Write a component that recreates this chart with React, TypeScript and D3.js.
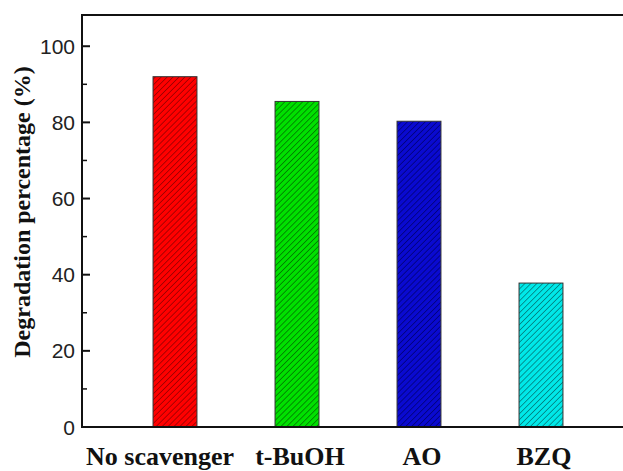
import React from 'react';
import * as d3 from 'd3';

const width = 623;
const height = 471;
const margin = { top: 15, right: -10, bottom: 44, left: 82 };

const categories = ['No scavenger', 't-BuOH', 'AO', 'BZQ'];
const values = [92.0, 85.5, 80.3, 37.8];
const fills = ['#ff0000', '#00e000', '#0a0ad0', '#00e8e8'];
const hatches = ['#8a0000', '#006a00', '#000070', '#007070'];
const majorTicks = [0, 20, 40, 60, 80, 100];
const minorTicks = [10, 30, 50, 70, 90];

export default function App() {
  const plotBottom = height - margin.bottom;
  const y = d3.scaleLinear().domain([0, 108.2]).range([plotBottom, margin.top]);
  const x = d3
    .scaleBand()
    .domain(categories)
    .range([114, 602])
    .paddingInner(0.64)
    .paddingOuter(0.32);

  return (
    <svg
      width={width}
      height={height}
      style={{ position: 'absolute', left: 0, top: 0, background: '#fff' }}
    >
      <defs>
        {categories.map((c, i) => (
          <pattern
            key={c}
            id={`hatch${i}`}
            patternUnits="userSpaceOnUse"
            width={4.2}
            height={4.2}
            patternTransform="rotate(45)"
          >
            <rect width={4.2} height={4.2} fill={fills[i]} />
            <line x1={0} y1={0} x2={0} y2={4.2} stroke={hatches[i]} strokeWidth={1.4} />
          </pattern>
        ))}
      </defs>

      {categories.map((c, i) => (
        <rect
          key={c}
          x={x(c)}
          y={y(values[i])}
          width={x.bandwidth()}
          height={plotBottom - y(values[i])}
          fill={`url(#hatch${i})`}
          stroke="#333"
          strokeWidth={1}
        />
      ))}

      {/* frame: left, top, bottom (right edge falls outside) */}
      <path
        d={`M${width + 2},${margin.top}H${margin.left}V${plotBottom}H${width + 2}`}
        fill="none"
        stroke="#111"
        strokeWidth={2}
      />

      {majorTicks.map((t) => (
        <g key={t}>
          <line x1={margin.left} x2={margin.left + 8} y1={y(t)} y2={y(t)} stroke="#111" strokeWidth={2} />
          <text
            x={margin.left - 7}
            y={y(t)}
            dy="0.36em"
            textAnchor="end"
            fontFamily="'Liberation Sans', Arial, sans-serif"
            fontSize={21}
            fill="#222"
          >
            {t}
          </text>
        </g>
      ))}
      {minorTicks.map((t) => (
        <line key={t} x1={margin.left} x2={margin.left + 5} y1={y(t)} y2={y(t)} stroke="#111" strokeWidth={1.5} />
      ))}

      {categories.map((c) => (
        <text
          key={c}
          x={(x(c) || 0) + x.bandwidth() / 2 + (c === 'No scavenger' ? -15 : 3)}
          y={465}
          textAnchor="middle"
          fontFamily="'Liberation Serif', 'Times New Roman', serif"
          fontWeight="bold"
          fontSize={26}
          fill="#111"
        >
          {c}
        </text>
      ))}

      <text
        transform={`translate(30, 212) rotate(-90)`}
        textAnchor="middle"
        fontFamily="'Liberation Serif', 'Times New Roman', serif"
        fontWeight="bold"
        fontSize={24}
        fill="#111"
      >
        Degradation percentage (%)
      </text>
    </svg>
  );
}
